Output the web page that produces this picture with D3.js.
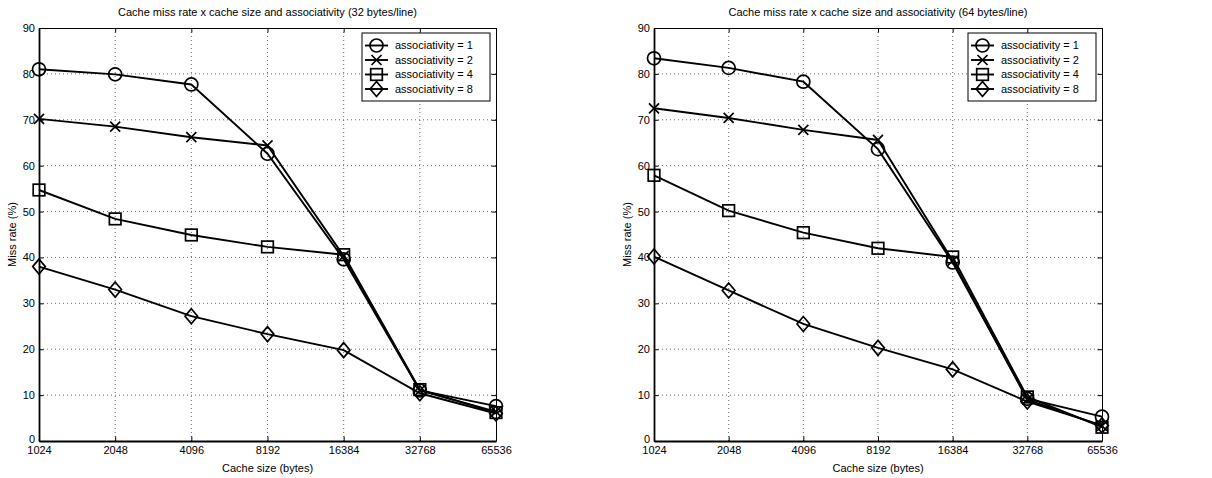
<!DOCTYPE html>
<html lang="en">
<head>
<meta charset="UTF-8" />
<title>Cache miss rate x cache size and associativity</title>
<script src="https://d3js.org/d3.v7.min.js"></script>
<style>
    body { margin: 0; background: #fff; font-family: 'Liberation Sans', Arial, sans-serif; }
    svg text { fill: #000; }
    .grid line { stroke: #444; stroke-width: 0.8; stroke-dasharray: 1,3; }
</style>
</head>
<body>
<svg id="chart" width="1212" height="478"></svg>
<script>
// Data
const cacheSizes = [1024, 2048, 4096, 8192, 16384, 32768, 65536];
const yTicks = [0, 10, 20, 30, 40, 50, 60, 70, 80, 90];
const assocLabels = ["associativity = 1", "associativity = 2", "associativity = 4", "associativity = 8"];
const markerTypes = ["circle", "x", "square", "diamond"];

// 32 bytes/line
const miss32_a1 = [81.0, 79.9, 77.7, 62.6, 39.6, 11.0, 7.6];
const miss32_a2 = [70.2, 68.5, 66.2, 64.4, 40.3, 11.0, 6.4];
const miss32_a4 = [54.7, 48.4, 44.9, 42.3, 40.6, 11.2, 6.2];
const miss32_a8 = [38.0, 33.0, 27.2, 23.3, 19.8, 10.4, 6.0];

// 64 bytes/line
const miss64_a1 = [83.4, 81.3, 78.3, 63.6, 38.9, 9.2, 5.3];
const miss64_a2 = [72.5, 70.4, 67.8, 65.6, 39.3, 9.0, 3.3];
const miss64_a4 = [57.9, 50.2, 45.4, 42.0, 40.1, 9.6, 3.0];
const miss64_a8 = [40.2, 32.8, 25.5, 20.3, 15.6, 8.6, 3.4];

const panels = [
    { title: "Cache miss rate x cache size and associativity (32 bytes/line)",
      x0: 39, x1: 496, series: [miss32_a1, miss32_a2, miss32_a4, miss32_a8] },
    { title: "Cache miss rate x cache size and associativity (64 bytes/line)",
      x0: 654, x1: 1102, series: [miss64_a1, miss64_a2, miss64_a4, miss64_a8] }
];

const plotTop = 28, plotBottom = 441;
const fontSize = 11;
const svg = d3.select("#chart");

// draw one marker shape at (0,0)
function drawMarker(g, type) {
    if (type === "circle") {
        g.append("circle").attr("r", 6.5);
    } else if (type === "square") {
        g.append("rect").attr("x", -5.8).attr("y", -5.8).attr("width", 11.6).attr("height", 11.6);
    } else if (type === "diamond") {
        g.append("path").attr("d", "M0,-7.5L6.3,0L0,7.5L-6.3,0Z");
    } else {
        g.append("path").attr("d", "M-5,-5L5,5M-5,5L5,-5");
    }
    g.selectAll("*").attr("fill", "none").attr("stroke", "#000").attr("stroke-width", 1.7);
}

panels.forEach(function(p) {
    const x = d3.scaleLog().base(2).domain([1024, 65536]).range([p.x0, p.x1]);
    const y = d3.scaleLinear().domain([0, 90]).range([plotBottom, plotTop]);
    const g = svg.append("g");

    // grid
    const grid = g.append("g").attr("class", "grid");
    grid.selectAll(".gx").data(cacheSizes.slice(1, -1)).enter().append("line")
        .attr("x1", d => x(d)).attr("x2", d => x(d))
        .attr("y1", plotTop).attr("y2", plotBottom);
    grid.selectAll(".gy").data(yTicks.slice(1, -1)).enter().append("line")
        .attr("x1", p.x0).attr("x2", p.x1)
        .attr("y1", d => y(d)).attr("y2", d => y(d));

    // axes (ticks inward)
    const axB = g.append("g").attr("transform", "translate(0," + plotBottom + ")")
        .call(d3.axisBottom(x).tickValues(cacheSizes).tickFormat(d3.format("d")).tickSizeInner(-4.5).tickSizeOuter(0).tickPadding(5));
    const axT = g.append("g").attr("transform", "translate(0," + plotTop + ")")
        .call(d3.axisTop(x).tickValues(cacheSizes).tickFormat("").tickSizeInner(-4.5).tickSizeOuter(0));
    const axL = g.append("g").attr("transform", "translate(" + p.x0 + ",0)")
        .call(d3.axisLeft(y).tickValues(yTicks).tickSizeInner(-4.5).tickSizeOuter(0).tickPadding(4));
    const axR = g.append("g").attr("transform", "translate(" + p.x1 + ",0)")
        .call(d3.axisRight(y).tickValues(yTicks).tickFormat("").tickSizeInner(-4.5).tickSizeOuter(0));
    [axB, axT, axL, axR].forEach(function(a) {
        a.selectAll("path.domain").attr("stroke", "#000").attr("stroke-width", 1);
        a.selectAll(".tick line").attr("stroke", "#000");
        a.selectAll("text").attr("font-size", fontSize).attr("font-family", "'Liberation Sans', Arial, sans-serif");
    });
    axB.select("path.domain").attr("stroke-width", 1.8);
    axL.select("path.domain").attr("stroke-width", 1.8);
    // the "0" label sits a little above the corner, as in the original
    axL.selectAll(".tick text").filter(d => d === 0).attr("dy", "0.1em");

    // labels
    g.append("text").attr("x", (p.x0 + p.x1) / 2).attr("y", 16)
        .attr("text-anchor", "middle").attr("font-size", fontSize).text(p.title);
    g.append("text").attr("x", (p.x0 + p.x1) / 2).attr("y", 472)
        .attr("text-anchor", "middle").attr("font-size", fontSize).text("Cache size (bytes)");
    g.append("text").attr("transform", "translate(" + (p.x0 - 23) + "," + ((plotTop + plotBottom) / 2) + ") rotate(-90)")
        .attr("text-anchor", "middle").attr("font-size", fontSize).text("Miss rate (%)");

    // series
    const line = d3.line().x((d, i) => x(cacheSizes[i])).y(d => y(d));
    p.series.forEach(function(vals, si) {
        g.append("path").datum(vals).attr("d", line)
            .attr("fill", "none").attr("stroke", "#000").attr("stroke-width", 1.9);
        vals.forEach(function(v, i) {
            const m = g.append("g").attr("transform", "translate(" + x(cacheSizes[i]) + "," + y(v) + ")");
            drawMarker(m, markerTypes[si]);
        });
    });

    // legend
    const lw = 128, lh = 68;
    const lx = p.x1 - 6 - lw, ly = plotTop + 5;
    const leg = g.append("g").attr("transform", "translate(" + lx + "," + ly + ")");
    leg.append("rect").attr("width", lw).attr("height", lh)
        .attr("fill", "#fff").attr("stroke", "#000").attr("stroke-width", 1);
    assocLabels.forEach(function(lbl, i) {
        const cy = 12.5 + i * 14.5;
        leg.append("line").attr("x1", 3).attr("x2", 26).attr("y1", cy).attr("y2", cy)
            .attr("stroke", "#000").attr("stroke-width", 1.9);
        drawMarker(leg.append("g").attr("transform", "translate(14.5," + cy + ")"), markerTypes[i]);
        leg.append("text").attr("x", 33).attr("y", cy).attr("dy", "0.35em")
            .attr("font-size", fontSize).text(lbl);
    });
});
</script>
</body>
</html>
